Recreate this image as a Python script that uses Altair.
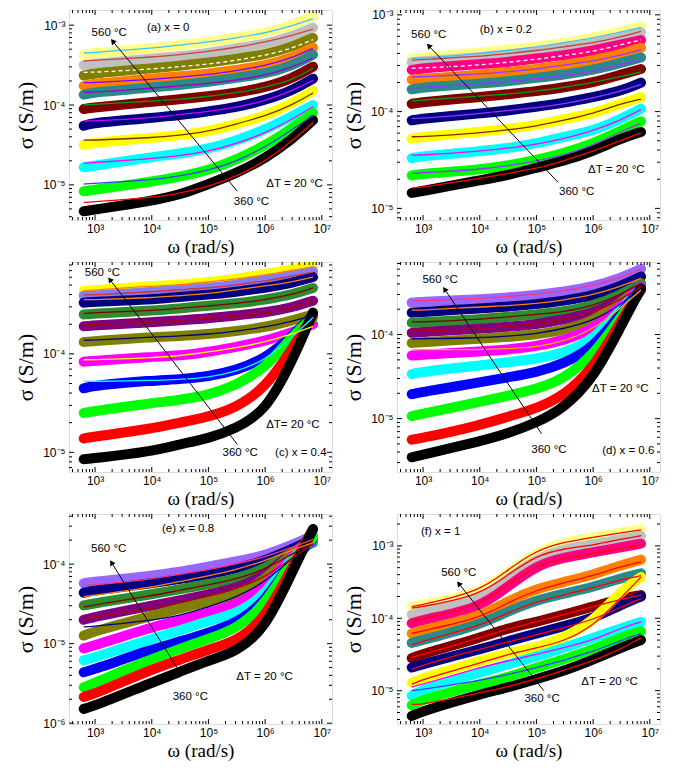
import math
import altair as alt
import pandas as pd

# angular frequencies (rad/s) at which each curve is read
W = [630, 1e3, 1e4, 3e4, 1e5, 3e5, 1e6, 3e6, 7e6]

# log10(sigma / S m^-1), curves from 360 C (first) to 560 C (last)
a_data = [
    [-5.33, -5.31, -5.20, -5.13, -4.99, -4.86, -4.67, -4.43, -4.19],
    [-5.08, -5.06, -4.96, -4.90, -4.82, -4.69, -4.51, -4.29, -4.10],
    [-4.78, -4.76, -4.65, -4.61, -4.55, -4.45, -4.31, -4.14, -4.00],
    [-4.50, -4.47, -4.41, -4.38, -4.33, -4.24, -4.14, -3.98, -3.82],
    [-4.26, -4.22, -4.16, -4.13, -4.08, -4.03, -3.94, -3.82, -3.67],
    [-4.05, -4.03, -3.96, -3.93, -3.89, -3.85, -3.78, -3.67, -3.52],
    [-3.87, -3.84, -3.78, -3.75, -3.71, -3.66, -3.61, -3.51, -3.37],
    [-3.76, -3.73, -3.67, -3.64, -3.61, -3.56, -3.51, -3.41, -3.28],
    [-3.63, -3.60, -3.54, -3.51, -3.47, -3.42, -3.37, -3.27, -3.16],
    [-3.50, -3.48, -3.42, -3.39, -3.35, -3.29, -3.24, -3.14, -3.03],
    [-3.37, -3.35, -3.29, -3.25, -3.21, -3.16, -3.10, -3.00, -2.89],
]
a_fit = [
    [-5.22, -5.21, -5.16, -5.11, -5.02, -4.90, -4.71, -4.45, -4.22],
    [-4.99, -4.98, -4.94, -4.89, -4.82, -4.71, -4.53, -4.31, -4.13],
    [-4.73, -4.72, -4.67, -4.64, -4.58, -4.49, -4.35, -4.18, -4.02],
    [-4.44, -4.44, -4.41, -4.38, -4.33, -4.24, -4.14, -4.00, -3.85],
    [-4.20, -4.20, -4.16, -4.12, -4.08, -4.03, -3.95, -3.82, -3.69],
    [-4.00, -3.99, -3.95, -3.93, -3.89, -3.85, -3.78, -3.69, -3.54],
    [-3.84, -3.84, -3.79, -3.76, -3.73, -3.69, -3.63, -3.53, -3.41],
    [-3.72, -3.72, -3.68, -3.65, -3.62, -3.57, -3.51, -3.41, -3.29],
    [-3.59, -3.59, -3.55, -3.52, -3.49, -3.44, -3.38, -3.29, -3.18],
    [-3.45, -3.44, -3.40, -3.37, -3.33, -3.28, -3.21, -3.13, -3.05],
    [-3.35, -3.34, -3.29, -3.25, -3.21, -3.16, -3.10, -3.01, -2.92],
]
b_data = [
    [-4.84, -4.82, -4.71, -4.66, -4.58, -4.51, -4.41, -4.28, -4.21],
    [-4.66, -4.64, -4.60, -4.56, -4.50, -4.43, -4.33, -4.20, -4.10],
    [-4.48, -4.46, -4.41, -4.38, -4.33, -4.26, -4.20, -4.08, -3.97],
    [-4.28, -4.26, -4.21, -4.18, -4.14, -4.08, -4.02, -3.92, -3.85],
    [-4.09, -4.07, -4.02, -3.99, -3.95, -3.91, -3.85, -3.79, -3.70],
    [-3.92, -3.90, -3.85, -3.82, -3.79, -3.75, -3.70, -3.62, -3.56],
    [-3.77, -3.75, -3.71, -3.69, -3.65, -3.62, -3.57, -3.50, -3.44],
    [-3.67, -3.66, -3.62, -3.59, -3.56, -3.52, -3.47, -3.41, -3.34],
    [-3.57, -3.55, -3.51, -3.49, -3.45, -3.42, -3.37, -3.31, -3.26],
    [-3.49, -3.48, -3.44, -3.41, -3.38, -3.35, -3.30, -3.24, -3.18],
    [-3.45, -3.44, -3.39, -3.36, -3.33, -3.29, -3.24, -3.17, -3.12],
]
b_fit = [
    [-4.79, -4.78, -4.69, -4.64, -4.59, -4.51, -4.41, -4.30, -4.22],
    [-4.64, -4.63, -4.60, -4.56, -4.51, -4.45, -4.35, -4.21, -4.12],
    [-4.45, -4.45, -4.41, -4.38, -4.34, -4.28, -4.20, -4.09, -3.98],
    [-4.26, -4.26, -4.22, -4.19, -4.15, -4.09, -4.02, -3.92, -3.87],
    [-4.07, -4.07, -4.02, -3.99, -3.96, -3.92, -3.86, -3.79, -3.72],
    [-3.89, -3.88, -3.84, -3.82, -3.79, -3.75, -3.70, -3.64, -3.59],
    [-3.76, -3.75, -3.71, -3.69, -3.66, -3.63, -3.58, -3.52, -3.46],
    [-3.64, -3.64, -3.61, -3.59, -3.56, -3.52, -3.48, -3.42, -3.36],
    [-3.55, -3.55, -3.52, -3.49, -3.46, -3.42, -3.38, -3.31, -3.26],
    [-3.47, -3.46, -3.43, -3.40, -3.37, -3.33, -3.29, -3.23, -3.17],
    [-3.45, -3.45, -3.40, -3.37, -3.33, -3.29, -3.24, -3.18, -3.13],
]
c_data = [
    [-5.07, -5.06, -4.99, -4.92, -4.86, -4.76, -4.59, -4.08, -3.58],
    [-4.86, -4.84, -4.76, -4.70, -4.64, -4.55, -4.35, -3.95, -3.61],
    [-4.60, -4.58, -4.50, -4.47, -4.42, -4.32, -4.15, -3.82, -3.63],
    [-4.35, -4.32, -4.27, -4.26, -4.23, -4.17, -4.05, -3.82, -3.61],
    [-4.08, -4.07, -4.03, -4.02, -3.98, -3.93, -3.87, -3.78, -3.70],
    [-3.88, -3.87, -3.83, -3.82, -3.80, -3.77, -3.73, -3.66, -3.60],
    [-3.72, -3.71, -3.68, -3.66, -3.64, -3.61, -3.58, -3.53, -3.46],
    [-3.60, -3.59, -3.56, -3.54, -3.51, -3.49, -3.45, -3.40, -3.33],
    [-3.48, -3.47, -3.45, -3.42, -3.40, -3.37, -3.33, -3.28, -3.22],
    [-3.41, -3.41, -3.37, -3.35, -3.33, -3.30, -3.25, -3.21, -3.16],
    [-3.36, -3.35, -3.31, -3.30, -3.27, -3.24, -3.19, -3.14, -3.10],
]
c_fit = [
    None, None, None,
    [-4.28, -4.28, -4.27, -4.26, -4.24, -4.18, -4.07, -3.83, -3.63],
    [-4.06, -4.06, -4.04, -4.02, -3.98, -3.94, -3.88, -3.80, -3.72],
    [-3.86, -3.86, -3.83, -3.82, -3.80, -3.77, -3.73, -3.67, -3.61],
    [-3.71, -3.70, -3.68, -3.66, -3.64, -3.62, -3.59, -3.53, -3.47],
    [-3.59, -3.58, -3.56, -3.54, -3.51, -3.49, -3.45, -3.40, -3.33],
    [-3.45, -3.45, -3.43, -3.41, -3.39, -3.35, -3.31, -3.27, -3.22],
    [-3.40, -3.40, -3.37, -3.35, -3.33, -3.30, -3.26, -3.21, -3.17],
    [-3.36, -3.35, -3.31, -3.30, -3.27, -3.24, -3.20, -3.15, -3.12],
]
d_data = [
    [-5.46, -5.43, -5.27, -5.18, -5.05, -4.88, -4.53, -3.92, -3.45],
    [-5.25, -5.23, -5.08, -4.98, -4.88, -4.73, -4.41, -3.85, -3.47],
    [-4.97, -4.94, -4.80, -4.73, -4.65, -4.53, -4.25, -3.80, -3.47],
    [-4.71, -4.68, -4.57, -4.51, -4.45, -4.35, -4.16, -3.76, -3.45],
    [-4.47, -4.44, -4.37, -4.33, -4.29, -4.22, -4.07, -3.71, -3.45],
    [-4.25, -4.24, -4.20, -4.18, -4.14, -4.07, -3.94, -3.67, -3.43],
    [-4.10, -4.09, -4.05, -4.03, -4.00, -3.95, -3.84, -3.63, -3.43],
    [-3.98, -3.97, -3.93, -3.91, -3.88, -3.82, -3.75, -3.59, -3.43],
    [-3.86, -3.85, -3.82, -3.79, -3.76, -3.73, -3.66, -3.53, -3.39],
    [-3.74, -3.73, -3.69, -3.67, -3.64, -3.60, -3.54, -3.43, -3.31],
    [-3.62, -3.61, -3.58, -3.56, -3.53, -3.49, -3.43, -3.33, -3.22],
]
d_fit = [
    None, None, None, None, None,
    [-4.18, -4.18, -4.18, -4.17, -4.15, -4.08, -3.94, -3.69, -3.47],
    [-4.05, -4.05, -4.04, -4.02, -3.99, -3.93, -3.84, -3.65, -3.45],
    [-3.96, -3.96, -3.93, -3.91, -3.87, -3.82, -3.74, -3.59, -3.43],
    [-3.85, -3.85, -3.82, -3.79, -3.76, -3.73, -3.66, -3.53, -3.39],
    [-3.71, -3.71, -3.67, -3.66, -3.63, -3.59, -3.53, -3.43, -3.33],
    [-3.60, -3.60, -3.57, -3.55, -3.52, -3.48, -3.42, -3.33, -3.22],
]
e_data = [
    [-5.82, -5.78, -5.49, -5.36, -5.21, -5.11, -4.82, -4.10, -3.56],
    [-5.67, -5.63, -5.32, -5.21, -5.07, -4.98, -4.69, -4.04, -3.56],
    [-5.55, -5.49, -5.19, -5.07, -4.94, -4.82, -4.52, -3.94, -3.67],
    [-5.36, -5.32, -5.07, -4.98, -4.86, -4.75, -4.48, -3.94, -3.69],
    [-5.21, -5.17, -4.94, -4.84, -4.71, -4.63, -4.40, -3.90, -3.71],
    [-5.06, -5.02, -4.79, -4.71, -4.61, -4.52, -4.31, -3.87, -3.69],
    [-4.90, -4.84, -4.65, -4.56, -4.47, -4.40, -4.21, -3.85, -3.69],
    [-4.70, -4.66, -4.52, -4.46, -4.38, -4.31, -4.15, -3.85, -3.71],
    [-4.52, -4.49, -4.38, -4.32, -4.25, -4.19, -4.06, -3.85, -3.73],
    [-4.36, -4.33, -4.24, -4.19, -4.13, -4.06, -3.96, -3.81, -3.69],
    [-4.24, -4.22, -4.15, -4.10, -4.03, -3.97, -3.89, -3.76, -3.64],
]
e_fit = [
    None, None, None, None, None, None,
    [-4.79, -4.78, -4.71, -4.65, -4.54, -4.42, -4.23, -3.92, -3.73],
    [-4.68, -4.66, -4.56, -4.49, -4.40, -4.31, -4.17, -3.92, -3.75],
    [-4.54, -4.51, -4.40, -4.33, -4.26, -4.19, -4.07, -3.87, -3.73],
    [-4.41, -4.39, -4.29, -4.22, -4.15, -4.07, -3.96, -3.82, -3.73],
    [-4.27, -4.26, -4.19, -4.13, -4.07, -4.00, -3.91, -3.79, -3.69],
]
f_data = [
    [-5.35, -5.28, -5.05, -4.96, -4.84, -4.73, -4.57, -4.41, -4.30],
    [-5.20, -5.12, -4.91, -4.82, -4.68, -4.57, -4.43, -4.27, -4.18],
    [-5.07, -4.98, -4.75, -4.64, -4.53, -4.41, -4.27, -4.14, -4.05],
    [-4.89, -4.82, -4.59, -4.48, -4.41, -4.27, -4.05, -3.63, -3.43],
    [-4.68, -4.63, -4.43, -4.32, -4.21, -4.11, -4.00, -3.82, -3.70],
    [-4.55, -4.49, -4.27, -4.14, -4.05, -3.95, -3.84, -3.73, -3.68],
    [-4.34, -4.30, -4.09, -3.91, -3.75, -3.66, -3.57, -3.45, -3.38],
    [-4.21, -4.16, -3.98, -3.77, -3.59, -3.50, -3.40, -3.27, -3.19],
    [-4.07, -4.02, -3.86, -3.57, -3.27, -3.16, -3.09, -3.02, -2.97],
    [-3.95, -3.92, -3.75, -3.47, -3.18, -3.04, -2.99, -2.91, -2.86],
    [-3.84, -3.81, -3.66, -3.38, -3.09, -2.95, -2.88, -2.82, -2.77],
]
f_fit = [
    [-5.19, -5.19, -5.03, -4.95, -4.84, -4.72, -4.59, -4.43, -4.27],
    [-5.00, -4.98, -4.86, -4.78, -4.68, -4.58, -4.46, -4.31, -4.21],
    [-4.95, -4.91, -4.68, -4.59, -4.50, -4.41, -4.30, -4.14, -4.05],
    [-4.91, -4.84, -4.62, -4.50, -4.41, -4.32, -4.11, -3.73, -3.43],
    [-4.71, -4.64, -4.43, -4.33, -4.23, -4.13, -4.02, -3.85, -3.73],
    [-4.54, -4.50, -4.27, -4.15, -4.05, -3.95, -3.84, -3.74, -3.68],
    [-4.37, -4.31, -4.11, -3.93, -3.77, -3.68, -3.58, -3.47, -3.41],
    [-4.21, -4.17, -4.00, -3.79, -3.61, -3.51, -3.41, -3.29, -3.22],
    [-4.05, -4.00, -3.83, -3.54, -3.27, -3.17, -3.11, -3.03, -2.99],
    [-3.86, -3.84, -3.68, -3.41, -3.13, -3.04, -2.99, -2.91, -2.86],
    [-3.84, -3.81, -3.63, -3.34, -3.06, -2.95, -2.88, -2.82, -2.78],
]

# colours of the measured bands and of the fitted lines
A_BAND = ['#000000', '#00ff00', '#00ffff', '#ffff00', '#000080', '#800000',
          '#2a8a8a', '#ff8000', '#808000', '#c0c0c0', '#ffff88']
A_FIT = ['#ff0000', '#3a3aff', '#ff00ff', '#8b2500', '#cc00ff', '#00a000',
         '#9900cc', '#7f00ff', '#ffffff', '#d04040', '#40c0ff']
B_BAND = ['#000000', '#00ff00', '#00ffff', '#ffff00', '#000080', '#800000',
          '#2a8a8a', '#ff8000', '#ff0080', '#c0c0c0', '#ffff88']
B_FIT = ['#ff0000', '#9933ff', '#ff00ff', '#8b2500', '#9933ff', '#00a000',
         '#9933ff', '#9933ff', '#ffffff', '#c04040', '#40c0ff']
C_BAND = ['#000000', '#ff0000', '#00ff00', '#0000ff', '#ff00ff', '#808000',
          '#800080', '#2e8b2e', '#000080', '#8a7cf0', '#ffff00']
C_FIT = [None, None, None, '#00ffff', '#ffff00', '#000080', '#b00000',
         '#800000', '#ff8000', '#cc3333', '#ff8000']
D_BAND = ['#000000', '#ff0000', '#00ff00', '#0000ff', '#00ffff', '#ff00ff',
          '#808000', '#800080', '#2e8b2e', '#000080', '#9966ff']
D_FIT = [None, None, None, None, None, '#ffaa00', '#000080', '#b00000',
         '#800000', '#ff8000', '#ff3377']
E_FIT = [None, None, None, None, None, None, '#000080', '#b00000',
         '#800000', '#ff8000', '#ff3377']
F_FIT = ['#ff0000', '#3a3aff', '#ff00ff', '#ff0000', '#ff0000', '#ff0000',
         '#ff0000', '#ff0000', '#ff0000', '#ff0000', '#ff0000']

# annotation texts (label, log10 w, log10 sigma) and arrows (tail -> head)
NOTES = {
    'a': [("(a) x = 0", 4.29, -3.03), ("560 °C", 3.25, -3.10),
          ("360 °C", 5.76, -5.22), ("ΔT = 20 °C", 6.52, -4.99)],
    'b': [("(b) x = 0.2", 4.46, -3.16), ("560 °C", 3.10, -3.21),
          ("360 °C", 5.71, -4.83), ("ΔT = 20 °C", 6.41, -4.60)],
    'c': [("(c) x = 0.4", 6.63, -5.01), ("560 °C", 3.13, -3.18),
          ("360 °C", 5.56, -5.01), ("ΔT= 20 °C", 6.49, -4.72)],
    'd': [("(d) x = 0.6", 6.62, -5.38), ("560 °C", 3.30, -3.35),
          ("360 °C", 5.22, -5.37), ("ΔT = 20 °C", 6.48, -4.65)],
    'e': [("(e) x = 0.8", 4.64, -3.56), ("560 °C", 3.24, -3.81),
          ("360 °C", 4.68, -5.67), ("ΔT = 20 °C", 5.99, -5.42)],
    'f': [("(f) x = 1", 3.31, -2.81), ("560 °C", 3.63, -3.37),
          ("360 °C", 5.10, -5.11), ("ΔT = 20 °C", 6.29, -4.88)],
}
ARROWS = {
    'a': (5.51, -5.08, 3.31, -3.20), 'b': (5.38, -4.73, 3.10, -3.32),
    'c': (5.51, -4.92, 3.26, -3.245), 'd': (5.09, -5.18, 3.38, -3.46),
    'e': (4.46, -5.32, 3.29, -3.98), 'f': (5.13, -5.00, 3.63, -3.52),
}

PANELS = {
    'a': dict(data=a_data, fit=a_fit, band=A_BAND, fitc=A_FIT, dashed=[8],
              ylog=(-5.44, -2.81), yt=[-5, -4, -3]),
    'b': dict(data=b_data, fit=b_fit, band=B_BAND, fitc=B_FIT, dashed=[8],
              ylog=(-5.12, -2.95), yt=[-5, -4, -3]),
    'c': dict(data=c_data, fit=c_fit, band=C_BAND, fitc=C_FIT, dashed=[],
              ylog=(-5.20, -3.067), yt=[-5, -4]),
    'd': dict(data=d_data, fit=d_fit, band=D_BAND, fitc=D_FIT, dashed=[],
              ylog=(-5.635, -3.137), yt=[-5, -4]),
    'e': dict(data=e_data, fit=e_fit, band=D_BAND, fitc=E_FIT, dashed=[],
              ylog=(-6.01, -3.37), yt=[-6, -5, -4]),
    'f': dict(data=f_data, fit=f_fit, band=B_BAND, fitc=F_FIT, dashed=[],
              ylog=(-5.46, -2.56), yt=[-5, -4, -3]),
}

PW, PH = 263, 210
XLOG = (2.54, 7.18)

SUPEXPR = ("'10' + (round(log(datum.value)/LN10) < 0 ? '\u207b' : '') + "
           "substring('\u2070\u00b9\u00b2\u00b3\u2074\u2075\u2076\u2077\u2078\u2079', "
           "abs(round(log(datum.value)/LN10)), abs(round(log(datum.value)/LN10)) + 1)")


def minor_vals(lo, hi):
    out = []
    for n in range(math.floor(lo) - 1, math.ceil(hi) + 1):
        for k in range(2, 10):
            v = k * 10 ** n
            if 10 ** lo < v < 10 ** hi:
                out.append(v)
    return out


def major_vals(lo, hi):
    return [10.0 ** n for n in range(math.ceil(lo), math.floor(hi) + 1)]


def panel(key):
    p = PANELS[key]
    ylo, yhi = p['ylog']
    xs = alt.Scale(type='log', domain=[10 ** XLOG[0], 10 ** XLOG[1]], nice=False)
    ys = alt.Scale(type='log', domain=[10 ** ylo, 10 ** yhi], nice=False)
    xaxis = alt.Axis(values=[1e3, 1e4, 1e5, 1e6, 1e7], labelExpr=SUPEXPR,
                     ticks=False, domain=False, grid=False, title='ω (rad/s)',
                     labelFont='Liberation Sans', labelFontSize=12,
                     labelColor='black', titleFont='Liberation Serif',
                     titleFontSize=19, titleFontWeight='normal',
                     titleColor='black', labelPadding=3, titlePadding=3,
                     labelFlush=False, labelOverlap=False)
    yaxis = alt.Axis(values=[10.0 ** v for v in p['yt']], labelExpr=SUPEXPR,
                     ticks=False, domain=False, grid=False, title='σ (S/m)',
                     labelFont='Liberation Sans', labelFontSize=12,
                     labelColor='black', titleFont='Liberation Serif',
                     titleFontSize=22, titleFontWeight='normal',
                     titleColor='black', labelPadding=4, titlePadding=5,
                     labelFlush=False, labelOverlap=False)
    X = alt.X('w:Q', scale=xs, axis=xaxis)
    Y = alt.Y('s:Q', scale=ys, axis=yaxis)

    band_rows, fit_rows, dash_rows = [], [], []
    for i in range(10, -1, -1):
        for j, w in enumerate(W):
            band_rows.append(dict(w=w, s=10 ** p['data'][i][j], c=p['band'][i],
                                  k=f"{10 - i:02d}", j=j))
    for i in range(11):
        if p['fit'][i] is None:
            continue
        target = dash_rows if i in p['dashed'] else fit_rows
        for j, w in enumerate(W):
            target.append(dict(w=w, s=10 ** p['fit'][i][j], c=p['fitc'][i],
                               k=f"{i:02d}", j=j))

    layers = []
    layers.append(alt.Chart(pd.DataFrame(band_rows)).mark_line(
        strokeWidth=10, strokeCap='round', strokeJoin='round',
        interpolate='basis', clip=True).encode(
        x=X, y=Y, color=alt.Color('c:N', scale=None), detail='k:N',
        order='j:Q'))
    if fit_rows:
        layers.append(alt.Chart(pd.DataFrame(fit_rows)).mark_line(
            strokeWidth=1.3, interpolate='basis', clip=True).encode(
            x=X, y=Y, color=alt.Color('c:N', scale=None), detail='k:N',
            order='j:Q'))
    if dash_rows:
        layers.append(alt.Chart(pd.DataFrame(dash_rows)).mark_line(
            strokeWidth=1.3, strokeDash=[4, 3], interpolate='basis',
            clip=True).encode(
            x=X, y=Y, color=alt.Color('c:N', scale=None), detail='k:N',
            order='j:Q'))

    # arrow
    tx, ty, hx, hy = ARROWS[key]
    sx = PW / (XLOG[1] - XLOG[0])
    sy = PH / (yhi - ylo)
    vx = (hx - tx) * sx
    vy = -(hy - ty) * sy
    ang = math.degrees(math.atan2(vx, -vy)) % 360
    adf = pd.DataFrame([dict(w=10 ** tx, s=10 ** ty, w2=10 ** hx, s2=10 ** hy)])
    layers.append(alt.Chart(adf).mark_rule(color='black', strokeWidth=1).encode(
        x=X, y=Y, x2='w2:Q', y2='s2:Q'))
    hdf = pd.DataFrame([dict(w=10 ** hx, s=10 ** hy)])
    layers.append(alt.Chart(hdf).mark_point(
        shape='triangle-up', filled=True, color='black', size=38, opacity=1,
        angle=ang).encode(x=X, y=Y))

    # texts
    ndf = pd.DataFrame([dict(t=t, w=10 ** lw, s=10 ** ls) for t, lw, ls in NOTES[key]])
    layers.append(alt.Chart(ndf).mark_text(
        font='Liberation Sans', fontSize=11.5, color='black', align='center',
        baseline='middle').encode(x=X, y=Y, text='t:N'))

    # inward ticks on all four sides
    xmaj = pd.DataFrame(dict(w=major_vals(*XLOG)))
    xmin = pd.DataFrame(dict(w=minor_vals(*XLOG)))
    ymaj = pd.DataFrame(dict(s=major_vals(ylo, yhi)))
    ymin = pd.DataFrame(dict(s=minor_vals(ylo, yhi)))
    for df, ln in ((xmaj, 5), (xmin, 3)):
        layers.append(alt.Chart(df).mark_rule(color='black', strokeWidth=1).encode(
            x=X, y=alt.value(PH), y2=alt.value(PH - ln)))
        layers.append(alt.Chart(df).mark_rule(color='black', strokeWidth=1).encode(
            x=X, y=alt.value(0), y2=alt.value(ln)))
    for df, ln in ((ymaj, 5), (ymin, 3)):
        layers.append(alt.Chart(df).mark_rule(color='black', strokeWidth=1).encode(
            y=Y, x=alt.value(0), x2=alt.value(ln)))
        layers.append(alt.Chart(df).mark_rule(color='black', strokeWidth=1).encode(
            y=Y, x=alt.value(PW), x2=alt.value(PW - ln)))

    return alt.layer(*layers).properties(width=PW, height=PH)


rows = []
for pair in (('a', 'b'), ('c', 'd'), ('e', 'f')):
    rows.append(alt.hconcat(panel(pair[0]), panel(pair[1]), spacing=8)
                .resolve_scale(x='independent', y='independent'))

chart = alt.vconcat(*rows, spacing=4).resolve_scale(
    x='independent', y='independent').properties(
    padding={"left": 5, "top": 0, "right": 5, "bottom": 0}).configure_view(
    stroke='black', strokeWidth=1.5).configure(background='white')

chart.save("out.html", embed_options={"renderer": "svg", "actions": False})
